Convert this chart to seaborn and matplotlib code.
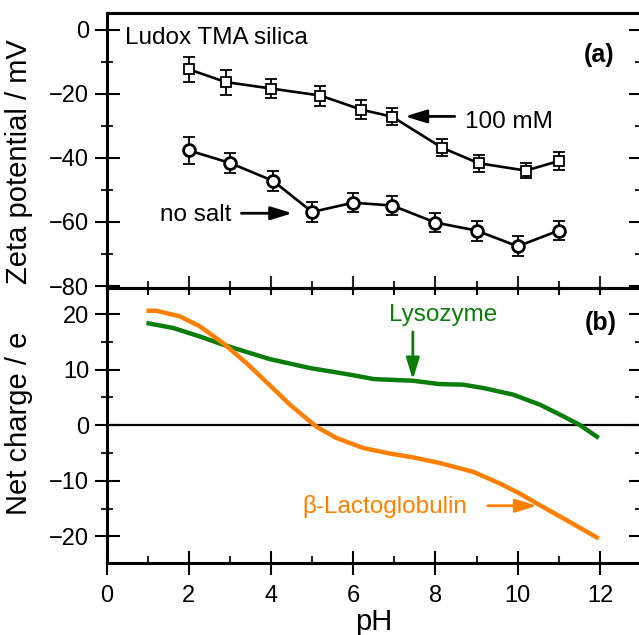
import matplotlib
matplotlib.use("Agg")
import matplotlib.pyplot as plt
import seaborn as sns
from matplotlib.ticker import MultipleLocator, NullFormatter

sns.set_theme(style="white")
plt.rcParams['font.family'] = ['Liberation Sans', 'DejaVu Sans']

# (a) zeta potential of Ludox TMA silica
ph_100mm = [2.0, 2.9, 4.0, 5.2, 6.2, 6.95, 8.15, 9.05, 10.2, 11.0]
zeta_100mm = [-12.4, -16.4, -18.4, -20.6, -25.0, -27.2, -36.8, -41.7, -44.0, -41.0]
err_100mm = [3.9, 3.9, 3.1, 3.1, 2.9, 2.7, 2.7, 2.6, 2.4, 2.8]

ph_nosalt = [2.0, 3.0, 4.05, 5.0, 6.0, 6.95, 8.0, 9.0, 10.0, 11.0]
zeta_nosalt = [-37.7, -41.6, -47.2, -56.9, -54.0, -54.9, -60.2, -62.7, -67.6, -62.7]
err_nosalt = [4.2, 3.1, 3.1, 3.1, 2.9, 3.1, 3.0, 3.1, 3.1, 2.9]

# (b) net protein charge
ph_lys = [0.97, 1.62, 2.3, 2.83, 3.97, 4.94, 5.92, 6.5, 7.46, 8.1, 8.67,
          9.16, 9.89, 10.54, 11.03, 11.51, 11.97]
charge_lys = [18.4, 17.5, 15.9, 14.5, 11.9, 10.3, 9.1, 8.3, 8.0, 7.4, 7.3,
              6.7, 5.5, 3.7, 1.9, 0.05, -2.3]

ph_blg = [0.97, 1.21, 1.78, 2.27, 2.83, 3.4, 3.97, 4.46, 5.1, 5.59, 6.24,
          6.89, 7.46, 8.1, 8.92, 9.57, 10.05, 10.54, 11.19, 11.97]
charge_blg = [20.6, 20.6, 19.6, 17.8, 14.8, 11.2, 7.2, 3.7, -0.25, -2.3, -4.1,
              -5.1, -5.8, -6.8, -8.4, -10.5, -12.3, -14.4, -17.1, -20.4]

GREEN = "#0a7d0a"
ORANGE = "#ff8000"
TICK_FS = 17
ANN_FS = 17.5
LAB_FS = 21

fig = plt.figure(figsize=(6.39, 6.35), dpi=100)
ax1 = fig.add_axes([0.1667, 0.5465, 0.8365, 0.4338])
ax2 = fig.add_axes([0.1667, 0.1134, 0.8365, 0.4331], sharex=ax1)

for ax in (ax1, ax2):
    ax.set_facecolor("white")
    for sp in ax.spines.values():
        sp.set_color("black")
        sp.set_linewidth(2.2)
    ax.tick_params(axis="y", which="major", direction="inout", length=18,
                   width=1.5, left=True, right=True, labelsize=TICK_FS,
                   pad=3.6, colors="black")
    ax.tick_params(axis="y", which="minor", direction="inout", length=9,
                   width=1.5, left=True, right=True)

# ---- top panel
ax1.errorbar(ph_100mm, zeta_100mm, yerr=err_100mm, fmt="none", ecolor="black",
             elinewidth=1.3, capsize=4, capthick=1.3, zorder=2)
sns.lineplot(x=ph_100mm, y=zeta_100mm, ax=ax1, color="black", lw=1.9,
             marker="s", markersize=6.5, markerfacecolor="white",
             markeredgecolor="black", markeredgewidth=1.3, zorder=3)
ax1.errorbar(ph_nosalt, zeta_nosalt, yerr=err_nosalt, fmt="none", ecolor="black",
             elinewidth=1.3, capsize=4, capthick=1.3, zorder=2)
sns.lineplot(x=ph_nosalt, y=zeta_nosalt, ax=ax1, color="black", lw=1.9,
             marker="o", markersize=8.5, markerfacecolor="white",
             markeredgecolor="black", markeredgewidth=2.0, zorder=3)

ax1.set_xlim(0, 13)
ax1.set_ylim(-80.6, 5.3)
ax1.yaxis.set_major_locator(MultipleLocator(20))
ax1.yaxis.set_minor_locator(MultipleLocator(10))
ax1.xaxis.set_major_locator(MultipleLocator(2))
ax1.xaxis.set_minor_locator(MultipleLocator(1))
ax1.tick_params(axis="x", which="major", direction="in", length=9, width=1.5,
                bottom=True, top=False, labelbottom=False)
ax1.tick_params(axis="x", which="minor", direction="in", length=5, width=1.5,
                bottom=True, top=False)
ax1.set_ylabel("Zeta potential / mV", fontsize=LAB_FS, color="black")
ax1.yaxis.set_label_coords(-0.137, 0.457)

ax1.text(0.034, 0.886, "Ludox TMA silica", transform=ax1.transAxes,
         fontsize=ANN_FS, va="baseline", ha="left", color="black")
ax1.text(0.951, 0.821, "(a)", transform=ax1.transAxes, fontsize=18,
         fontweight="bold", va="baseline", ha="right", color="black")

arrow_k = dict(arrowstyle="-|>,head_length=0.65,head_width=0.2", lw=2,
               color="black", shrinkA=0, shrinkB=0, mutation_scale=20)
ax1.annotate("", xy=(7.26, -27.1), xytext=(8.47, -27.1), arrowprops=arrow_k)
ax1.text(8.72, -30.75, "100 mM", fontsize=ANN_FS, va="baseline", ha="left",
         color="black")
ax1.annotate("", xy=(4.52, -57.3), xytext=(3.28, -57.3), arrowprops=arrow_k)
ax1.text(1.3, -59.6, "no salt", fontsize=ANN_FS, va="baseline", ha="left",
         color="black")

# ---- bottom panel
ax2.axhline(0, color="black", lw=1.6, zorder=1)
sns.lineplot(x=ph_lys, y=charge_lys, ax=ax2, color=GREEN, lw=3.2, sort=False,
             solid_capstyle="butt", zorder=3)
sns.lineplot(x=ph_blg, y=charge_blg, ax=ax2, color=ORANGE, lw=3.2, sort=False,
             solid_capstyle="butt", zorder=3)

ax2.set_ylim(-24.8, 24.7)
ax2.yaxis.set_major_locator(MultipleLocator(10))
ax2.yaxis.set_minor_locator(MultipleLocator(5))
ax2.set_xticks(range(0, 13, 2))
ax2.tick_params(axis="x", which="major", direction="inout", length=17,
                width=1.5, bottom=True, top=False, labelsize=TICK_FS, pad=7.3,
                colors="black")
ax2.tick_params(axis="x", which="minor", direction="in", length=5, width=1.5,
                bottom=True, top=False)

top = ax2.secondary_xaxis("top")
top.set_xticks(range(0, 13, 2))
top.xaxis.set_minor_locator(MultipleLocator(1))
top.xaxis.set_major_formatter(NullFormatter())
top.tick_params(axis="x", which="both", direction="in", length=5, width=1.5,
                colors="black")
top.spines["top"].set_linewidth(2.2)

ax2.set_xlabel("pH", fontsize=LAB_FS, color="black")
ax2.xaxis.set_label_coords(0.5, -0.163)
ax2.set_ylabel("Net charge / e", fontsize=LAB_FS, color="black")
ax2.yaxis.set_label_coords(-0.137, 0.507)

ax2.text(0.955, 0.847, "(b)", transform=ax2.transAxes, fontsize=18,
         fontweight="bold", va="baseline", ha="right", color="black")

ax2.text(8.18, 18.8, "Lysozyme", fontsize=ANN_FS, va="baseline", ha="center",
         color=GREEN)
ax2.annotate("", xy=(7.45, 8.2), xytext=(7.45, 16.8),
             arrowprops=dict(arrow_k, color=GREEN))
ax2.text(4.77, -15.8, "\u03b2-Lactoglobulin", fontsize=ANN_FS, va="baseline",
         ha="left", color=ORANGE)
ax2.annotate("", xy=(10.47, -14.5), xytext=(9.27, -14.5),
             arrowprops=dict(arrow_k, color=ORANGE))

fig.savefig("out.png", dpi=100, facecolor="white")
